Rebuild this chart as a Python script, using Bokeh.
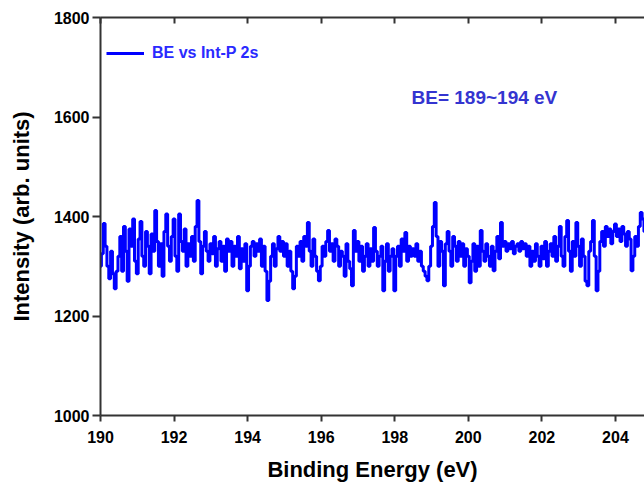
from bokeh.plotting import figure
from bokeh.models import Range1d, LinearAxis, Label, Legend, LegendItem, ColumnDataSource
from bokeh.embed import file_html
from bokeh.resources import INLINE

# --- data ---
be_start = 190.0
be_step = 0.05
intensity = [
    1300, 1325, 1386, 1340, 1300, 1275, 1330, 1285, 1255, 1290,
    1320, 1360, 1290, 1380, 1330, 1270, 1375, 1340, 1395, 1310,
    1285, 1355, 1390, 1320, 1300, 1370, 1340, 1285, 1365, 1330,
    1412, 1350, 1300, 1345, 1280, 1370, 1405, 1340, 1310, 1360,
    1395, 1320, 1290, 1405, 1350, 1330, 1375, 1300, 1345, 1320,
    1360, 1310, 1380, 1432, 1350, 1285, 1340, 1370, 1330, 1310,
    1345, 1325, 1360, 1300, 1335, 1350, 1310, 1340, 1290, 1355,
    1330, 1350, 1300, 1340, 1320, 1360, 1295, 1335, 1310, 1345,
    1251, 1300, 1340, 1350, 1320, 1345, 1330, 1355, 1300, 1340,
    1290, 1231, 1270, 1320, 1345, 1300, 1335, 1360, 1330, 1350,
    1320, 1345, 1300, 1330, 1290, 1255, 1280, 1340, 1320, 1350,
    1310, 1360, 1340, 1388, 1330, 1300, 1355, 1320, 1290, 1271,
    1300, 1340, 1320, 1350, 1372, 1330, 1345, 1310, 1355, 1340,
    1300, 1330, 1320, 1280, 1345, 1310, 1295, 1261, 1372, 1330,
    1350, 1310, 1340, 1290, 1320, 1345, 1300, 1335, 1310, 1378,
    1330, 1300, 1320, 1340, 1251, 1310, 1345, 1290, 1320, 1335,
    1251, 1320, 1340, 1300, 1355, 1330, 1368, 1310, 1340, 1320,
    1335, 1320, 1345, 1310, 1330, 1300, 1290, 1280, 1271, 1300,
    1340, 1380, 1428, 1360, 1300, 1350, 1330, 1261, 1345, 1370,
    1330, 1300, 1360, 1340, 1310, 1350, 1320, 1345, 1300, 1335,
    1320, 1267, 1310, 1345, 1290, 1340, 1300, 1372, 1330, 1310,
    1345, 1320, 1300, 1340, 1291, 1330, 1360, 1315, 1388, 1340,
    1350, 1330, 1345, 1335, 1350, 1325, 1340, 1345, 1330, 1350,
    1335, 1345, 1320, 1340, 1300, 1330, 1310, 1345, 1320, 1300,
    1340, 1315, 1350, 1300, 1330, 1345, 1320, 1360, 1310, 1340,
    1380, 1320, 1300, 1360, 1392, 1330, 1290, 1350, 1320, 1388,
    1340, 1300, 1355, 1320, 1270, 1261, 1330, 1350, 1392, 1320,
    1251, 1290, 1350, 1370, 1340, 1380, 1360, 1375, 1345, 1370,
    1385, 1360, 1375, 1350, 1380, 1365, 1340, 1370, 1355, 1291,
    1320, 1360, 1340, 1380, 1408, 1395, 1370,
]
binding_energy = [round(be_start + be_step * i, 2) for i in range(len(intensity))]

series_label = "BE vs Int-P 2s"
note_text = "BE= 189~194 eV"
x_title = "Binding Energy (eV)"
y_title = "Intensity (arb. units)"
y_ticks = [1000, 1200, 1400, 1600, 1800]
x_ticks = [190, 192, 194, 196, 198, 200, 202, 204]

FONT = "Liberation Sans"
AXIS_COLOR = "#333333"

p = figure(width=644, height=485, output_backend="svg", toolbar_location=None,
           x_range=Range1d(190, 204.79), y_range=Range1d(1000, 1800),
           min_border_left=100, min_border_right=0, min_border_top=17, min_border_bottom=70)
p.outline_line_color = None
p.xgrid.visible = False
p.ygrid.visible = False
p.background_fill_color = "white"
p.border_fill_color = "white"

src = ColumnDataSource(dict(x=binding_energy, y=intensity))
r = p.step("x", "y", source=src, mode="center", line_color="#0000ff", line_width=3)

# bottom axis
xa = p.xaxis[0]
xa.ticker = x_ticks
xa.ticker.num_minor_ticks = 5
xa.axis_line_color = AXIS_COLOR
xa.axis_line_width = 2
xa.major_tick_line_color = AXIS_COLOR
xa.major_tick_line_width = 2
xa.minor_tick_line_color = AXIS_COLOR
xa.minor_tick_line_width = 2
xa.major_tick_in = 0
xa.major_tick_out = 6
xa.minor_tick_in = 0
xa.minor_tick_out = 3
xa.major_label_text_font = FONT
xa.major_label_text_font_style = "bold"
xa.major_label_text_font_size = "16px"
xa.major_label_text_color = "black"
xa.major_label_standoff = 9
xa.axis_label = x_title
xa.axis_label_text_font = FONT
xa.axis_label_text_font_style = "bold"
xa.axis_label_text_font_size = "22px"
xa.axis_label_text_color = "black"
xa.axis_label_standoff = 11

# left axis
ya = p.yaxis[0]
ya.ticker = y_ticks
ya.axis_line_color = AXIS_COLOR
ya.axis_line_width = 2
ya.major_tick_line_color = AXIS_COLOR
ya.major_tick_line_width = 2
ya.major_tick_in = 0
ya.major_tick_out = 8
ya.minor_tick_line_color = None
ya.major_label_text_font = FONT
ya.major_label_text_font_style = "bold"
ya.major_label_text_font_size = "16px"
ya.major_label_text_color = "black"
ya.major_label_standoff = 3
ya.axis_label = y_title
ya.axis_label_text_font = FONT
ya.axis_label_text_font_style = "bold"
ya.axis_label_text_font_size = "22px"
ya.axis_label_text_color = "black"
ya.axis_label_standoff = 17

# top axis (frame line with inward ticks, no labels)
ta = LinearAxis(ticker=x_ticks)
ta.ticker.num_minor_ticks = 5
ta.axis_line_color = AXIS_COLOR
ta.axis_line_width = 2
ta.major_tick_line_color = AXIS_COLOR
ta.major_tick_line_width = 2
ta.minor_tick_line_color = AXIS_COLOR
ta.minor_tick_line_width = 2
ta.major_tick_in = 6
ta.major_tick_out = 0
ta.minor_tick_in = 3
ta.minor_tick_out = 0
ta.major_label_text_font_size = "0px"
ta.major_label_text_color = None
ta.major_label_standoff = 0
p.add_layout(ta, "above")

# legend
legend = Legend(items=[LegendItem(label=series_label, renderers=[r])],
                location=(6, 352), padding=0, margin=0, spacing=0,
                glyph_width=38, glyph_height=20, label_height=20,
                label_standoff=8, border_line_color=None,
                background_fill_alpha=0)
legend.label_text_font = FONT
legend.label_text_font_style = "bold"
legend.label_text_font_size = "16px"
legend.label_text_color = "#2a2aff"
p.add_layout(legend, "center")

note = Label(x=311, y=318, x_units="screen", y_units="screen", text=note_text,
             text_font=FONT, text_font_style="bold", text_font_size="19px",
             text_color="#3434d0", text_baseline="middle")
p.add_layout(note)

open("out.html", "w").write(file_html(p, INLINE))
